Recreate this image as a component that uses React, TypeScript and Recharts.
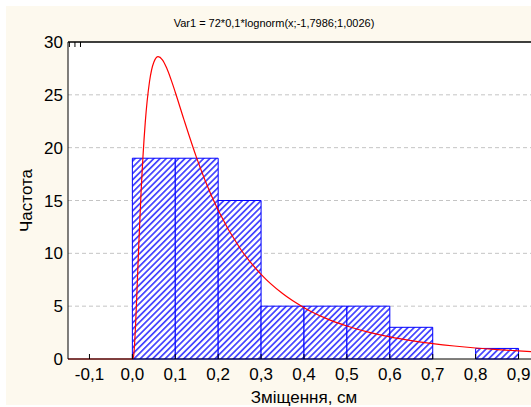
import React from 'react'
import {
  ComposedChart, Line, XAxis, YAxis, CartesianGrid, ReferenceArea, ReferenceLine,
} from 'recharts'

// histogram bins (left edge) and counts
const binStarts = [0.0, 0.1, 0.2, 0.3, 0.4, 0.5, 0.6, 0.7, 0.8]
const binCounts = [19, 19, 15, 5, 5, 5, 3, 0, 1]
const binWidth = 0.1

// fitted curve
const curveX = [-0.15, 0, 0.0025, 0.005, 0.0075, 0.01, 0.015, 0.02, 0.03, 0.04, 0.05, 0.06, 0.07, 0.08, 0.09, 0.1, 0.12, 0.15, 0.17, 0.2, 0.25, 0.3, 0.35, 0.4, 0.45, 0.5, 0.55, 0.6, 0.65, 0.7, 0.75, 0.8, 0.85, 0.9, 0.95]
const curveY = [0, 0, 0.18, 1.3, 3.26, 5.7, 10.85, 15.53, 22.37, 26.26, 28.09, 28.61, 28.31, 27.53, 26.46, 25.25, 22.68, 19.01, 16.85, 14.07, 10.53, 8.01, 6.19, 4.86, 3.87, 3.12, 2.54, 2.09, 1.74, 1.46, 1.23, 1.04, 0.89, 0.77, 0.66]

const xTicks = [-0.1, 0, 0.1, 0.2, 0.3, 0.4, 0.5, 0.6, 0.7, 0.8, 0.9]
const yTicks = [0, 5, 10, 15, 20, 25, 30]
const gridValues = [5, 10, 15, 20, 25]

const FONT = '"Liberation Sans", Arial, sans-serif'
const txt = { fill: '#000', fontSize: 17, fontFamily: FONT, fontWeight: 400 }

export default function App() {
  const data = curveX.map((x, i) => ({ x, y: curveY[i] }))
  const fmt = (v: number) => v.toFixed(1).replace('.', ',')

  return (
    <div style={{ position: 'fixed', left: 0, top: 0, width: 531, height: 407, overflow: 'hidden', background: '#fff', fontFamily: FONT }}>
      <div style={{ position: 'absolute', left: 6, top: 6, width: 525, height: 399, background: '#fdf9ee' }} />
      {/* white plot background */}
      <div style={{ position: 'absolute', left: 68, top: 42, width: 472, height: 317, background: '#ffffff' }} />
      <div style={{ position: 'absolute', left: 0, width: 548, top: 17, textAlign: 'center', fontSize: 11, color: '#000' }}>
        Var1 = 72*0,1*lognorm(x;-1,7986;1,0026)
      </div>
      <div style={{ position: 'absolute', left: 0, top: 0 }}>
        <ComposedChart width={560} height={407} data={data} margin={{ top: 40, right: 20, bottom: 0, left: 0 }}>
          <defs>
            <pattern id="hatch" patternUnits="userSpaceOnUse" width={4.4} height={4.4} patternTransform="rotate(45)">
              <rect width={4.4} height={4.4} fill="#ffffff" />
              <rect width={1.7} height={4.4} fill="#4242ff" />
            </pattern>
          </defs>
          <CartesianGrid vertical={false} horizontal horizontalValues={gridValues} stroke="#c4c4c4" strokeDasharray="4 3" />
          <XAxis
            dataKey="x" type="number" domain={[-0.15, 0.95]} ticks={xTicks} allowDataOverflow
            tickFormatter={fmt} height={48} tickSize={-5} tickMargin={14}
            stroke="#000" tick={txt}
            label={{ value: 'Зміщення, см', position: 'insideBottom', offset: 4, ...txt }}
          />
          <XAxis
            xAxisId="top" orientation="top" type="number" domain={[-0.15, 0.95]} ticks={xTicks}
            allowDataOverflow height={2} tickSize={-5} tickFormatter={() => ''} stroke="#000"
          />
          <YAxis
            type="number" domain={[0, 30]} ticks={yTicks} width={68} tickLine={false} tickSize={0} tickMargin={5}
            stroke="#000" tick={txt}
            label={{ value: 'Частота', angle: -90, position: 'center', dx: -8.5, ...txt }}
          />
          {binStarts.map((s, i) => binCounts[i] > 0 && (
            <ReferenceArea
              key={s} x1={s} x2={s + binWidth} y1={0} y2={binCounts[i]}
              fill="url(#hatch)" fillOpacity={1} stroke="#0000ff" strokeWidth={1}
            />
          ))}
          <ReferenceLine y={30} stroke="#000" strokeWidth={1} ifOverflow="visible" />
          <Line type="monotone" dataKey="y" stroke="#ff0000" strokeWidth={1.2} dot={false} isAnimationActive={false} />
        </ComposedChart>
      </div>
    </div>
  )
}
